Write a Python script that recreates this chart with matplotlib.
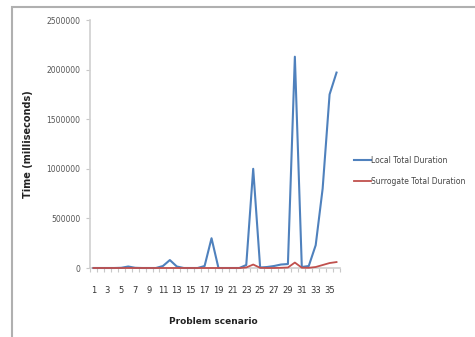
import matplotlib
matplotlib.use("Agg")
import matplotlib.pyplot as plt
from matplotlib.patches import Rectangle

# Problem scenarios 1..36
scenarios = list(range(1, 37))

# Total duration per scenario (milliseconds)
local_total = [
    0, 0, 0, 0, 2000, 15000, 2000, 0, 0, 0,
    20000, 80000, 15000, 0, 0, 0, 20000, 300000, 0, 0,
    0, 0, 30000, 1000000, 5000, 10000, 20000, 35000, 40000, 2130000,
    10000, 20000, 230000, 800000, 1750000, 1970000,
]
surrogate_total = [
    0, 0, 0, 0, 0, 0, 0, 0, 0, 0,
    0, 0, 0, 0, 0, 0, 0, 0, 0, 0,
    0, 0, 5000, 35000, 2000, 0, 0, 2000, 5000, 55000,
    3000, 2000, 10000, 30000, 50000, 60000,
]

y_ticks = [0, 500000, 1000000, 1500000, 2000000, 2500000]
x_tick_labels = [str(s) for s in scenarios if s % 2 == 1]

W, H = 475, 337
fig = plt.figure(figsize=(W / 100, H / 100), dpi=100)
fig.patch.set_facecolor("white")

# chart frame
fig.patches.append(Rectangle((12 / W, -0.05), 1.1, 1 - 7 / H + 0.05,
                             transform=fig.transFigure, fill=False,
                             edgecolor="#b0b0b0", linewidth=1.5))

ax = fig.add_axes([90 / W, 1 - 268 / H, 250 / W, 248 / H])
ax.plot(scenarios, local_total, color="#4f81bd", linewidth=1.5,
        label="Local Total Duration", clip_on=False, zorder=3)
ax.plot(scenarios, surrogate_total, color="#c0504d", linewidth=1.3,
        label="Surrogate Total Duration", clip_on=False, zorder=4)

ax.set_xlim(0.5, 36.5)
ax.set_ylim(0, 2500000)
ax.set_yticks(y_ticks)
ax.set_yticklabels([str(v) for v in y_ticks], fontsize=5.5, color="#555555")
ax.set_xticks([s for s in scenarios if s % 2 == 1])
ax.set_xticklabels(x_tick_labels, fontsize=6, color="#333333")
ax.set_xticks([s + 0.5 for s in range(0, 37)], minor=True)
ax.tick_params(axis="x", which="major", length=0, pad=13)
ax.tick_params(axis="x", which="minor", length=3, color="#c8c8c8", width=0.8)
ax.tick_params(axis="y", length=3, color="#c8c8c8", width=0.8, pad=4)

for side in ("top", "right"):
    ax.spines[side].set_visible(False)
for side in ("left", "bottom"):
    ax.spines[side].set_color("#d0d0d0")
    ax.spines[side].set_linewidth(1.2)

ax.set_ylabel("Time (milliseconds)", fontsize=7, fontweight="bold",
              color="#222222")
ax.yaxis.set_label_coords((33 - 90) / 250, 0.5)
ax.set_xlabel("Problem scenario", fontsize=6.5, fontweight="bold",
              color="#222222")
ax.xaxis.set_label_coords((213 - 90) / 250, -(317 - 268) / 248)

leg = ax.legend(loc="center left", bbox_to_anchor=(257 / 250, 1 - (171 - 20) / 248),
                frameon=False, fontsize=5.5, handlelength=2.2,
                handletextpad=0.1, labelspacing=1.6)
for t in leg.get_texts():
    t.set_color("#444444")

fig.savefig("out.png", dpi=100, facecolor="white")
